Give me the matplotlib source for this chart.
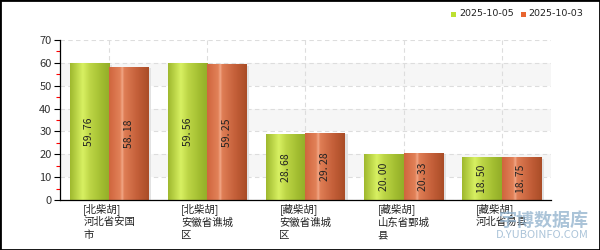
import numpy as np
import matplotlib.pyplot as plt
from matplotlib.colors import LinearSegmentedColormap
from matplotlib.patches import Rectangle

plt.rcParams['font.family'] = ['Noto Sans CJK SC', 'DejaVu Sans']

# data
categories = ["[北柴胡]\n河北省安国\n市", "[北柴胡]\n安徽省谯城\n区", "[藏柴胡]\n安徽省谯城\n区",
              "[藏柴胡]\n山东省鄄城\n县", "[藏柴胡]\n河北省易县"]
series_names = ["2025-10-05", "2025-10-03"]
vals_1005 = [59.76, 59.56, 28.68, 20.00, 18.50]
vals_1003 = [58.18, 59.25, 29.28, 20.33, 18.75]

green_cmap = LinearSegmentedColormap.from_list("g", [
    (0.0, "#9fb92f"), (0.22, "#c6df52"), (0.32, "#d8f062"),
    (0.5, "#bdd646"), (0.8, "#a2bd30"), (1.0, "#93ad28")])
orange_cmap = LinearSegmentedColormap.from_list("o", [
    (0.0, "#d0663e"), (0.28, "#e28259"), (0.33, "#f2a888"),
    (0.38, "#df7e55"), (0.7, "#c5603a"), (1.0, "#aa4d27")])

fig = plt.figure(figsize=(6, 2.5), dpi=100)
ax = fig.add_axes([0.1, 0.2, 0.818, 0.64])

x = np.arange(len(categories))
w = 0.4

# alternating bands
for lo in (10, 30, 50):
    ax.axhspan(lo, lo + 10, color="#f6f6f6", zorder=0, lw=0)

ax.set_axisbelow(True)
ax.grid(True, ls=(0, (4, 3)), color="#dddddd", lw=0.8)

bars_g = ax.bar(x - w / 2, vals_1005, w, color="#b5d334", zorder=2)
bars_o = ax.bar(x + w / 2, vals_1003, w, color="#e0673a", zorder=2)

grad = np.linspace(0, 1, 64).reshape(1, -1)
for bars, cmap in ((bars_g, green_cmap), (bars_o, orange_cmap)):
    for b in bars:
        bx, bw, bh = b.get_x(), b.get_width(), b.get_height()
        # soft shadow
        ax.add_patch(Rectangle((bx + 0.03, 0), bw, bh - 0.6, color="#e2e2e2", zorder=1.5, lw=0))
        ax.imshow(grad, cmap=cmap, aspect="auto", extent=[bx, bx + bw, 0, bh],
                  zorder=2.5, interpolation="bilinear")

for bars, vals in ((bars_g, vals_1005), (bars_o, vals_1003)):
    for b, v in zip(bars, vals):
        s = f"{v:.2f}".replace(".", ". ")
        ax.text(b.get_x() + b.get_width() / 2, v / 2, s, rotation=90, ha="center", va="center",
                fontsize=7.5, color="#222222", zorder=4)

ax.set_xlim(-0.5, len(categories) - 0.5)
ax.set_ylim(0, 70)
ax.set_yticks(range(0, 71, 10))
ax.set_yticks(range(5, 70, 10), minor=True)
ax.tick_params(axis="y", which="major", length=4, width=0.8, colors="black", labelsize=8,
               labelcolor="#333333", pad=2)
ax.tick_params(axis="y", which="minor", length=3, width=0.8, color="red")
ax.set_xticks(x)
ax.set_xticklabels([])
ax.tick_params(axis="x", length=0)
for xi, lab in zip(x, categories):
    ax.text(xi, -1.3, lab, ha="center", va="top", multialignment="left", fontsize=7.5,
            color="#222222", linespacing=1.3)

for s in ("top", "right"):
    ax.spines[s].set_visible(False)
ax.spines["left"].set_linewidth(0.9)
ax.spines["bottom"].set_linewidth(0.9)

# legend
fig.patches.append(Rectangle((451 / 600, 1 - 17 / 250), 5 / 600, 5 / 250, transform=fig.transFigure,
                             color="#bde030", lw=0))
fig.text(459 / 600, 1 - 14 / 250, series_names[0], fontsize=6.8, va="center", color="#222222",
         family="DejaVu Sans")
fig.patches.append(Rectangle((521 / 600, 1 - 17 / 250), 5 / 600, 5 / 250, transform=fig.transFigure,
                             color="#e8652f", lw=0))
fig.text(528 / 600, 1 - 14 / 250, series_names[1], fontsize=6.8, va="center", color="#222222",
         family="DejaVu Sans")

# watermark
fig.text(589 / 600, 1 - 220 / 250, "宇博数据库", fontsize=13, fontweight="bold", color="#8fb0cc",
         ha="right", va="center", alpha=0.75)
fig.text(589 / 600, 1 - 235 / 250, "D.YUBOINFO.COM", fontsize=8, color="#8fb0cc",
         ha="right", va="center", alpha=0.75)

fig.patches.append(Rectangle((0, 0), 1, 1, transform=fig.transFigure, fill=False, ec="black", lw=2))

fig.savefig("out.png", dpi=100)
